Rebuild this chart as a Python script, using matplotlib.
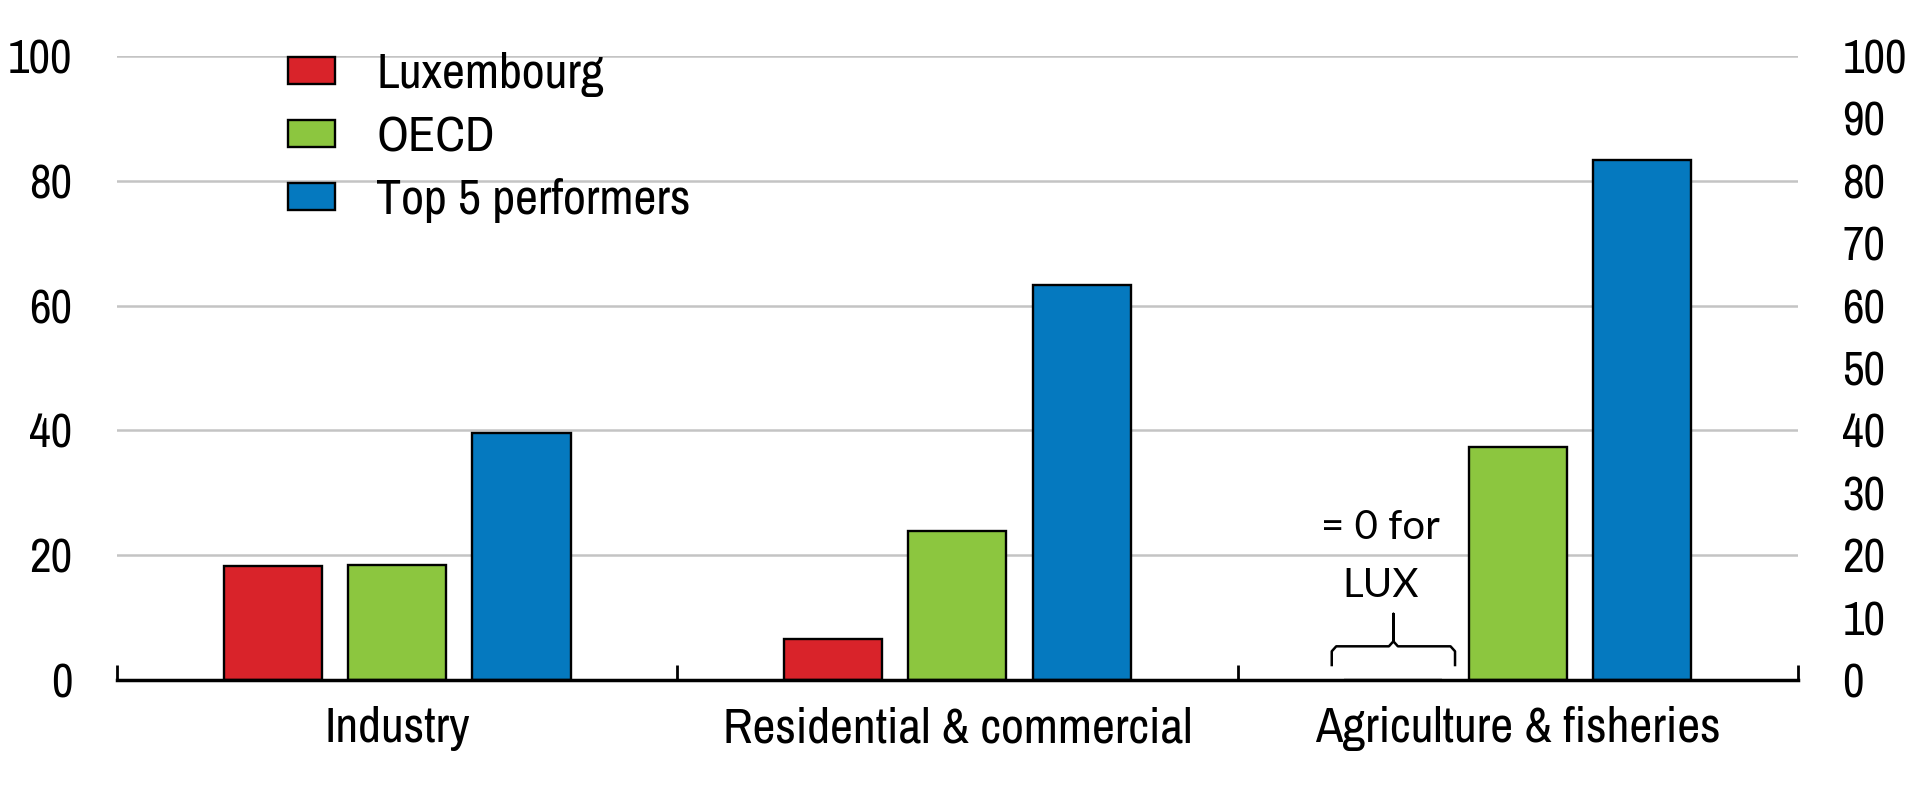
import numpy as np
import matplotlib
matplotlib.use("Agg")
import matplotlib.pyplot as plt

# ---------- data ----------
sectors = ["Industry", "Residential & commercial", "Agriculture & fisheries"]
series = ["Luxembourg", "OECD", "Top 5 performers"]
lux = [18.3, 6.5, 0.0]
oecd = [18.4, 23.9, 37.3]
top5 = [39.6, 63.3, 83.3]

C = {"Luxembourg": "#d9232a", "OECD": "#8cc63f", "Top 5 performers": "#0579bf"}
NARROW = ["Archivo Narrow", "Liberation Sans", "DejaVu Sans"]
plt.rcParams.update({"font.family": NARROW, "font.size": 34})

fig = plt.figure(figsize=(19.17, 7.92), dpi=100)
ax = fig.add_axes([0.0610, 0.1414, 0.8769, 0.7879])

x = np.arange(len(sectors)) + 0.5
step, w = 0.222, 0.175
for i, (name, vals) in enumerate(zip(series, [lux, oecd, top5])):
    ax.bar(x + (i - 1) * step, vals, w, color=C[name], edgecolor="black",
           linewidth=1.7, label=name, zorder=3)

ax.set_xlim(0, 3)
ax.set_ylim(0, 100)
ax.set_yticks(np.arange(0, 101, 20))
ax.yaxis.grid(True, color="#c4c4c4", linewidth=1.8, zorder=0)
ax.set_axisbelow(True)
for s in ["left", "right", "top"]:
    ax.spines[s].set_visible(False)
ax.spines["bottom"].set_linewidth(2.5)
ax.spines["bottom"].set_zorder(4)

# group boundary ticks (pointing up), labels at group centres
ax.set_xticks([0, 1, 2, 3])
ax.set_xticklabels([])
ax.tick_params(axis="x", which="major", direction="in", length=11, width=2)
ax.set_xticks(x, minor=True)
ax.set_xticklabels(sectors, minor=True, fontsize=36)
ax.tick_params(axis="x", which="minor", length=0, pad=19)
ax.tick_params(axis="y", length=0, pad=32)

# right axis, 0-100 by 10
ax2 = ax.twinx()
ax2.set_ylim(0, 100)
ax2.set_yticks(np.arange(0, 101, 10))
ax2.tick_params(axis="y", length=0, pad=32)
for s in ax2.spines.values():
    s.set_visible(False)

ax.legend(loc="upper left", bbox_to_anchor=(0.1017, 1.006), frameon=False,
          borderpad=0, borderaxespad=0, handlelength=0.95, handleheight=0.46,
          handletextpad=0.82, labelspacing=0.36, fontsize=36)

# brace + note for the missing Luxembourg bar
bx = x[2] - step
hw, r = 0.11, 0.008
ax.plot([bx - hw, bx - hw, bx - hw + r, bx - r, bx, bx, bx, bx + r, bx + hw - r, bx + hw, bx + hw],
        [2.4, 4.6, 5.4, 5.4, 6.2, 10.6, 6.2, 5.4, 5.4, 4.6, 2.4],
        color="black", linewidth=1.8, zorder=5, solid_joinstyle="round")
ax.text(bx - 0.023, 24.4, "= 0 for", ha="center", va="center", fontsize=29,
        family=["Lato", "DejaVu Sans"])
ax.text(bx - 0.023, 15.2, "LUX", ha="center", va="center", fontsize=29,
        family=["Lato", "DejaVu Sans"])

fig.savefig("out.png", dpi=100)
